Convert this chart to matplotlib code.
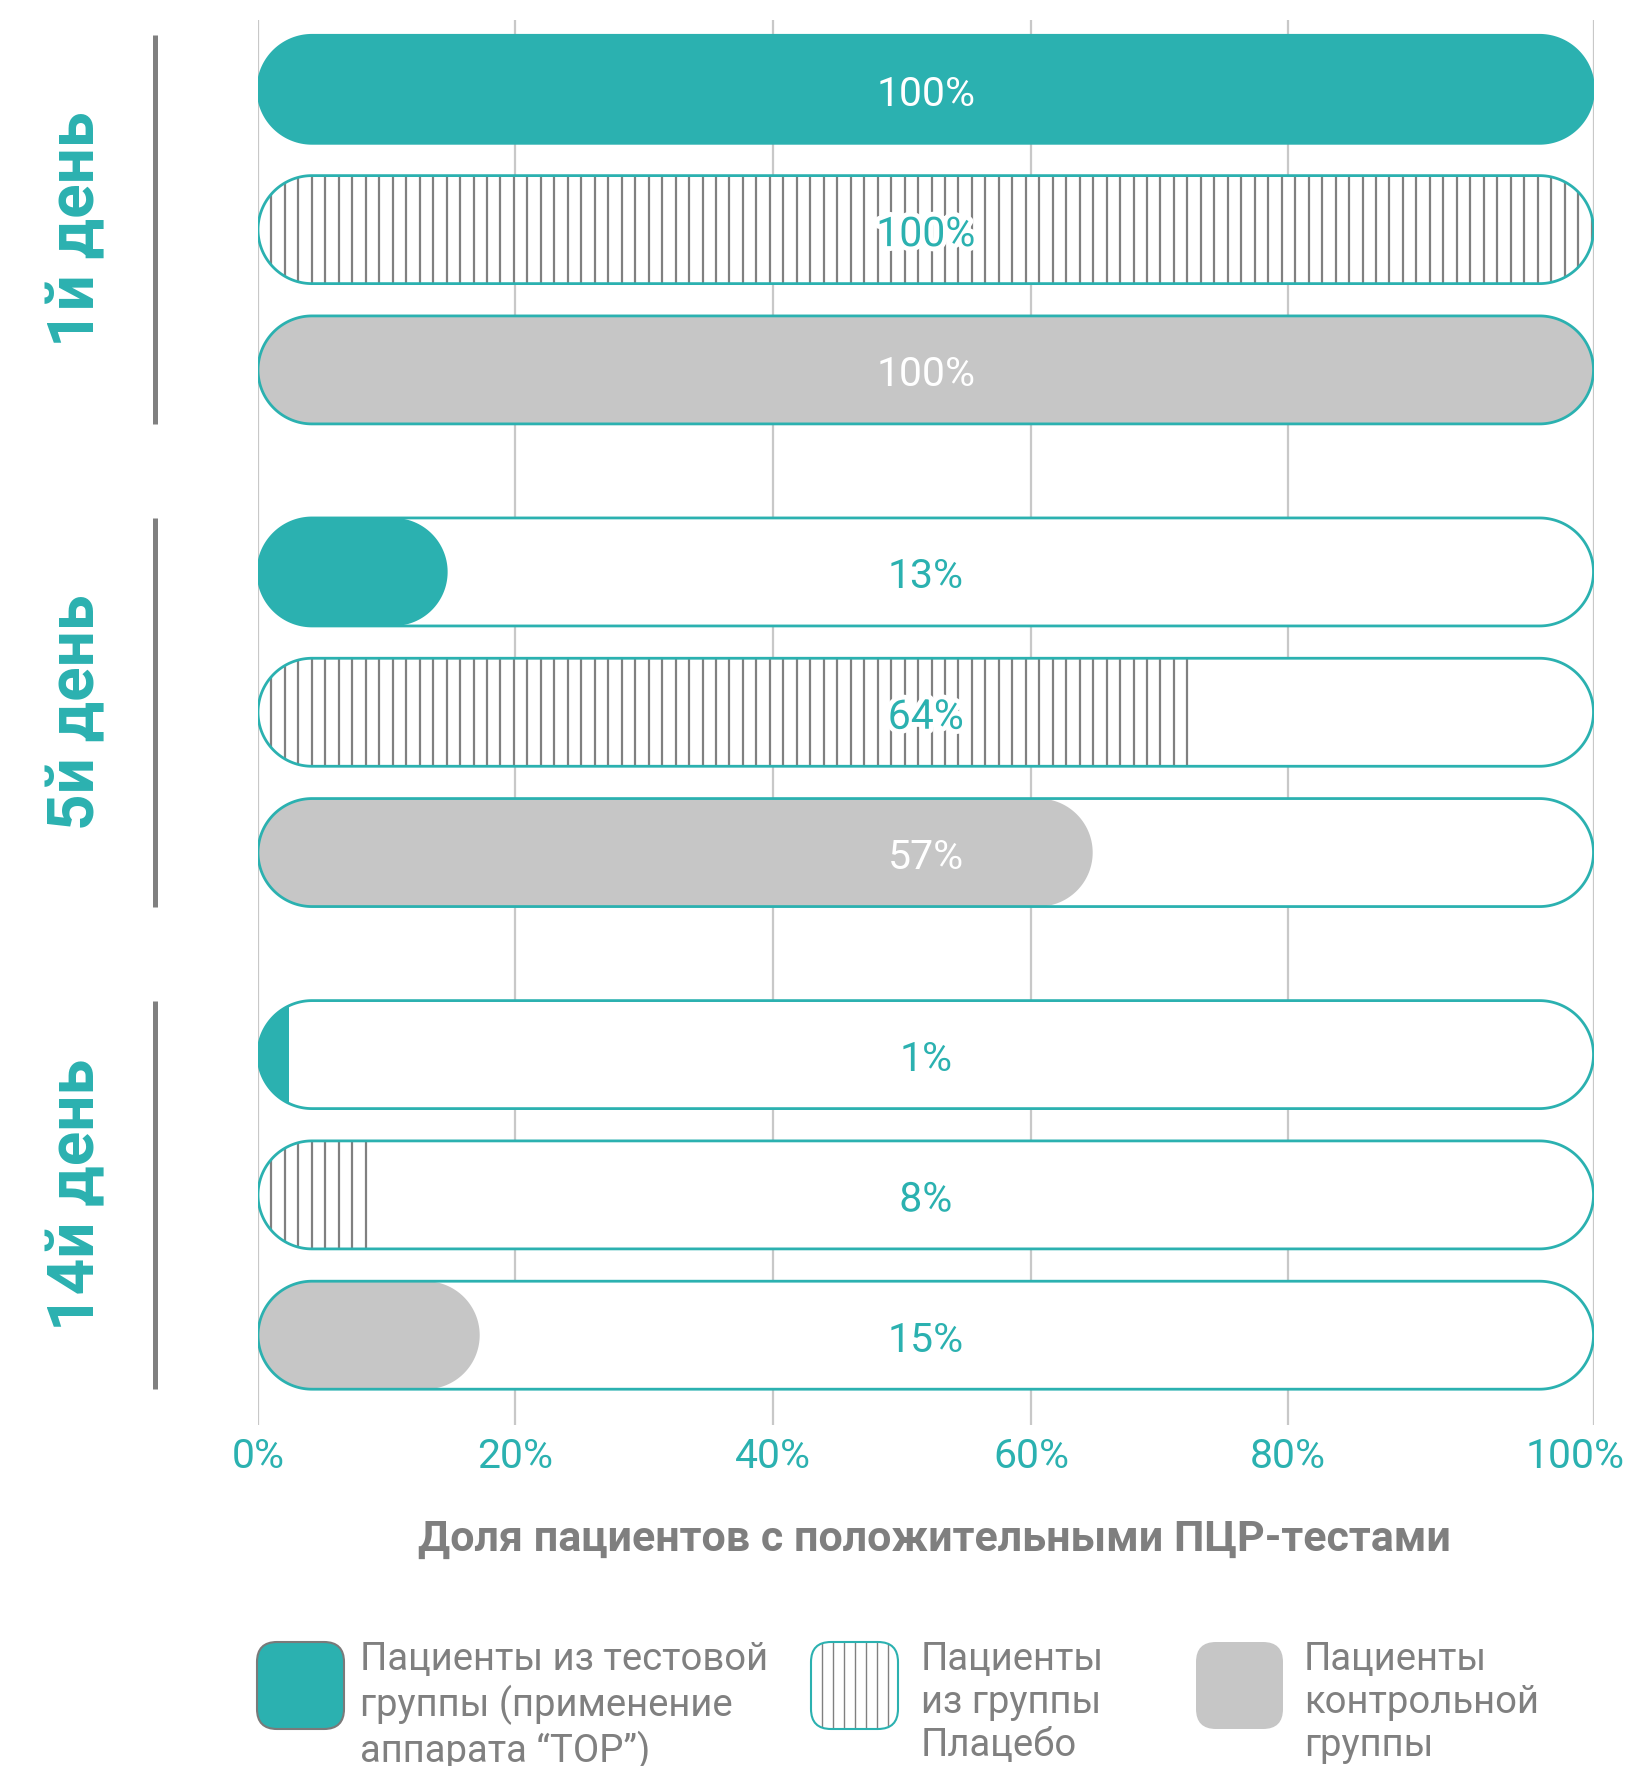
import numpy as np
import matplotlib
matplotlib.use('Agg')
import matplotlib.pyplot as plt
from matplotlib.patches import PathPatch, FancyBboxPatch, Rectangle
from matplotlib.path import Path
import matplotlib.patheffects as pe
import matplotlib.transforms as mtransforms

plt.rcParams['font.family'] = ['Roboto', 'DejaVu Sans']

# ---------------- data ----------------
days = ['1й день', '5й день', '14й день']
series = ['test', 'placebo', 'control']
value_labels = [['100%', '100%', '100%'],
                ['13%', '64%', '57%'],
                ['1%', '8%', '15%']]
# bar lengths as drawn in the picture (full bar = 100)
bar_lengths = [[100, 100, 100],
               [14.2, 69.6, 62.5],
               [2.3, 8.1, 16.6]]
tick_positions = [0, 19.23, 38.58, 57.9, 77.1, 100]
tick_labels = ['0%', '20%', '40%', '60%', '80%', '100%']
x_title = 'Доля пациентов с положительными ПЦР-тестами'
legend_labels = ['Пациенты из тестовой\nгруппы (применение\nаппарата “TOP”)',
                 'Пациенты\nиз группы\nПлацебо',
                 'Пациенты\nконтрольной\nгруппы']

# ---------------- style ----------------
TEAL = '#2bb1b0'
GREY_FILL = '#c6c6c6'
GREY_LINE = '#808080'
GRID = '#c8c8c8'
W, H, DPI = 1630, 1766, 100
GROUP_STEP = 3.44
R_PX = 54.0
HATCH_PX = 13.47
LABEL_FS = 29.5

fig = plt.figure(figsize=(W / DPI, H / DPI), dpi=DPI)
ax_left, ax_right, ax_top, ax_bot = 258, 1593.5, 20, 1425
ax = fig.add_axes([ax_left / W, 1 - ax_bot / H, (ax_right - ax_left) / W, (ax_bot - ax_top) / H])
ax.set_xlim(0, 100)
ax.set_ylim(9.52, -0.494)
for s in ax.spines.values():
    s.set_visible(False)
ax.set_yticks([])
ax.set_xticks(tick_positions)
ax.set_xticklabels(tick_labels, color=TEAL, fontsize=LABEL_FS)
ax.tick_params(axis='x', length=0, pad=9)
ax.grid(axis='x', color=GRID, lw=1.6)
ax.set_axisbelow(True)

bbox = ax.get_window_extent()
px_x = bbox.width / 100.0
px_y = bbox.height / (9.52 + 0.494)
rx = R_PX / px_x
hy = R_PX / px_y


def pill_path(x0, x1, yc):
    n = 80
    t1 = np.linspace(-np.pi / 2, np.pi / 2, n)
    right = np.column_stack([x1 - rx + rx * np.cos(t1), yc + hy * np.sin(t1)])
    t2 = np.linspace(np.pi / 2, 3 * np.pi / 2, n)
    left = np.column_stack([x0 + rx + rx * np.cos(t2), yc + hy * np.sin(t2)])
    verts = np.vstack([right, left, right[:1]])
    codes = [Path.MOVETO] + [Path.LINETO] * (len(verts) - 2) + [Path.CLOSEPOLY]
    return Path(verts, codes)


halo = [pe.withStroke(linewidth=7, foreground='white')]
spacing = HATCH_PX / px_x
label_shift = mtransforms.ScaledTranslation(0, -5 / DPI, fig.dpi_scale_trans)

for g, day in enumerate(days):
    for i, kind in enumerate(series):
        yc = g * GROUP_STEP + i
        L = bar_lengths[g][i]
        bg = PathPatch(pill_path(0, 100, yc), facecolor='white', edgecolor='none', zorder=2)
        ax.add_patch(bg)
        if kind == 'placebo':
            n = int(np.floor(L / spacing + 1e-3))
            xs = spacing * np.arange(1, n + 1)
            lc = ax.vlines(xs, yc - hy, yc + hy, colors=GREY_LINE, lw=1.6, zorder=3)
            lc.set_clip_path(bg)
        else:
            col = TEAL if kind == 'test' else GREY_FILL
            if L * px_x >= 2 * R_PX:
                ax.add_patch(PathPatch(pill_path(0, L, yc), facecolor=col, edgecolor='none', zorder=3))
            else:
                rect = Rectangle((0, yc - hy), L, 2 * hy, facecolor=col, edgecolor='none', zorder=3)
                ax.add_patch(rect)
                rect.set_clip_path(bg)
        ax.add_patch(PathPatch(pill_path(0, 100, yc), facecolor='none', edgecolor=TEAL, lw=2.0, zorder=4))
        # value label
        if kind == 'placebo':
            ax.text(50, yc, value_labels[g][i], ha='center', va='center', fontsize=LABEL_FS,
                    color=TEAL, zorder=5, path_effects=halo,
                    transform=ax.transData + label_shift)
        else:
            c = 'white' if L > 55 else TEAL
            ax.text(50, yc, value_labels[g][i], ha='center', va='center', fontsize=LABEL_FS,
                    color=c, zorder=5, transform=ax.transData + label_shift)
    # group label and bracket line
    ytr = ax.get_yaxis_transform()
    ax.text((77 - ax_left) / (ax_right - ax_left), g * GROUP_STEP + 1, day, rotation=90,
            ha='center', va='center', fontsize=46, fontweight='bold', color=TEAL,
            transform=ytr, clip_on=False)
    xl = (155 - ax_left) / (ax_right - ax_left)
    ax.plot([xl, xl], [g * GROUP_STEP - hy, g * GROUP_STEP + 2 + hy], transform=ytr,
            color=GREY_LINE, lw=3.6, clip_on=False, solid_capstyle='butt')

# shift last tick label left so it fits
lbl = ax.get_xticklabels()[-1]
lbl.set_transform(lbl.get_transform() + mtransforms.ScaledTranslation(-18 / DPI, 0, fig.dpi_scale_trans))

ax.set_xlabel(x_title, fontsize=31, fontweight='bold', color='#7f7f7f')
ax.xaxis.set_label_coords((934 - ax_left) / (ax_right - ax_left), (ax_bot - 1539) / (ax_bot - ax_top))
ax.xaxis.label.set_va('center')

# ---------------- legend (overlay in pixel coordinates) ----------------
lax = fig.add_axes([0, 0, 1, 1], zorder=-1)
lax.set_xlim(0, W)
lax.set_ylim(H, 0)
lax.axis('off')
box_x = [257, 811, 1196]
text_x = [360, 921, 1304]
box_y, box_s = 1642, 87
styles = [dict(facecolor=TEAL, edgecolor='#7a7a7a', lw=1.5),
          dict(facecolor='white', edgecolor=TEAL, lw=1.5),
          dict(facecolor=GREY_FILL, edgecolor='none', lw=0)]
for k in range(3):
    p = FancyBboxPatch((box_x[k], box_y), box_s, box_s,
                       boxstyle='round,pad=0,rounding_size=20', **styles[k], zorder=2)
    lax.add_patch(p)
    if k == 1:
        xs = box_x[k] + 11 * np.arange(1, 8)
        lc = lax.vlines(xs, box_y, box_y + box_s, colors=GREY_LINE, lw=1.0, zorder=1)
        bgp = FancyBboxPatch((box_x[k], box_y), box_s, box_s,
                             boxstyle='round,pad=0,rounding_size=20', facecolor='none', edgecolor='none')
        lax.add_patch(bgp)
        lc.set_clip_path(bgp)
        p.set_facecolor('none')
        p.set_zorder(3)
    lax.text(text_x[k], 1641, legend_labels[k], ha='left', va='top', fontsize=27.5,
             color=GREY_LINE, linespacing=1.2)

fig.savefig('out.png', dpi=DPI)
